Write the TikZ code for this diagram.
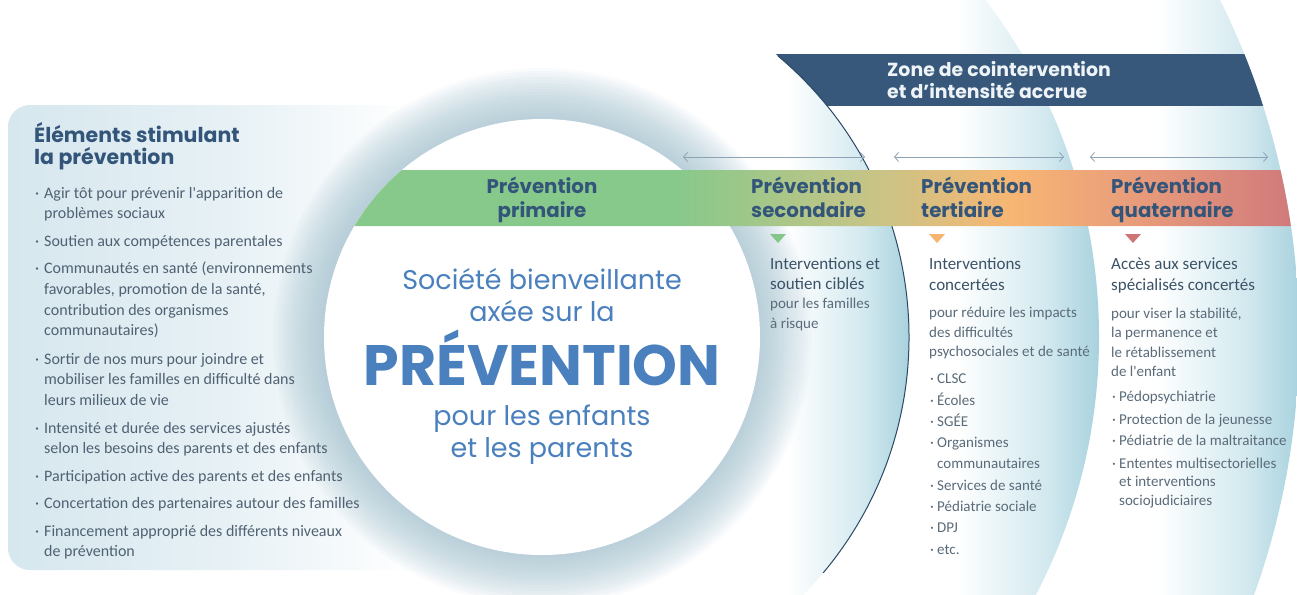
\documentclass[tikz,border=0pt]{standalone}
\usepackage{fontspec}
\setmainfont{Carlito}
\newfontfamily\pop{Poppins}
\newfontfamily\bodyf{Carlito}
\usetikzlibrary{arrows.meta}

\definecolor{bandblue}{HTML}{A8D2DE}
\definecolor{bandmid}{HTML}{D3E9EF}
\definecolor{glowc}{HTML}{9DBFCD}
\definecolor{panelL}{HTML}{D6E7EE}
\definecolor{panelM}{HTML}{E7F1F5}
\definecolor{titleblue}{HTML}{34557A}
\definecolor{bannerc}{HTML}{37587A}
\definecolor{bannertxt}{HTML}{EEF3F7}
\definecolor{circtext}{HTML}{4A80BD}
\definecolor{bodyc}{HTML}{4F6173}
\definecolor{headc}{HTML}{3B5267}
\definecolor{subc}{HTML}{5A6B7A}
\definecolor{arrowc}{HTML}{8EA2B5}
\definecolor{darkline}{HTML}{2C4867}
\definecolor{gA}{HTML}{86C98B}
\definecolor{gB}{HTML}{C9C486}
\definecolor{gC}{HTML}{F7B673}
\definecolor{gD}{HTML}{EBA17A}
\definecolor{gE}{HTML}{D17A7B}
\definecolor{triG}{HTML}{84C68A}
\definecolor{triO}{HTML}{F6B46F}
\definecolor{triR}{HTML}{CF7474}

\pgfdeclarehorizontalshading{bandsh}{100bp}{color(0bp)=(white); color(25bp)=(white); color(40bp)=(white); color(62bp)=(bandmid); color(75bp)=(bandblue); color(100bp)=(bandblue)}
\pgfdeclarehorizontalshading{barsh}{100bp}{color(0bp)=(gA); color(25bp)=(gA); color(42bp)=(gA); color(53bp)=(gB); color(60bp)=(gC); color(65.5bp)=(gD); color(75bp)=(gE); color(100bp)=(gE)}
\pgfdeclarehorizontalshading{panelsh}{100bp}{color(0bp)=(panelL); color(25bp)=(panelL); color(45bp)=(panelM); color(62bp)=(white); color(100bp)=(white)}

\tikzset{
  bodytxt/.style={font=\bodyf\fontsize{16}{19}\selectfont, text=bodyc, inner sep=0pt, anchor=base west},
  coltitle/.style={font=\bodyf\fontsize{17}{20}\selectfont, text=headc, inner sep=0pt, anchor=base west},
  colsub/.style={font=\bodyf\fontsize{15}{18}\selectfont, text=subc, inner sep=0pt, anchor=base west},
  bartxt/.style={font=\pop\bfseries\fontsize{19.8}{22}\selectfont, text=titleblue, inner sep=0pt},
  titletxt/.style={font=\pop\bfseries\fontsize{20.5}{24}\selectfont, text=titleblue, inner sep=0pt, anchor=base west},
  bantxt/.style={font=\pop\bfseries\fontsize{18.9}{22}\selectfont, text=bannertxt, inner sep=0pt, anchor=base west},
  circtxt/.style={font=\pop\fontsize{27}{30}\selectfont, text=circtext, inner sep=0pt, anchor=base},
  bigtxt/.style={font=\pop\bfseries\fontsize{57}{60}\selectfont, text=circtext, inner sep=0pt, anchor=base},
  arr/.style={draw=arrowc, line width=0.8pt, {Straight Barb[length=4pt,width=9pt]}-{Straight Barb[length=4pt,width=9pt]}},
}

\begin{document}
\begin{tikzpicture}[x=1pt,y=1pt]
\useasboundingbox (0,0) rectangle (1297,-594);
\fill[white] (0,0) rectangle (1297,-594);
\coordinate (C) at (542,-337);

% concentric bands
\begin{scope}
  \clip (C) circle[radius=757pt];
  \shade[shading=bandsh] (1095,0) rectangle (1299,-594);
\end{scope}
\begin{scope}
  \clip (C) circle[radius=557pt];
  \fill[white] (C) circle[radius=557pt];
  \shade[shading=bandsh] (895,0) rectangle (1099,-594);
\end{scope}
\begin{scope}
  \clip (C) circle[radius=367pt];
  \fill[white] (C) circle[radius=367pt];
  \shade[shading=bandsh] (735,0) rectangle (909,-594);
\end{scope}

% left panel
\shade[shading=panelsh, rounded corners=22pt] (8,-105) rectangle (560,-570);

% glow around central circle
\foreach \r in {221,224,...,269} \fill[glowc, opacity=0.058] (C) circle[radius=\r pt];
\fill[white] (C) circle[radius=218pt];

% banner
\begin{scope}
  \clip (542,-55) rectangle (1297,-105.5);
  \fill[bannerc, even odd rule] (C) circle[radius=757pt] (C) circle[radius=367pt];
\end{scope}

% dark arc
\draw[darkline, line width=1pt] (C) ++(50:367pt) arc[start angle=50, end angle=-40, radius=367pt];

% gradient bar
\shade[shading=barsh] (354.4,-226) arc[start angle=149.39, end angle=130.0, radius=218pt]
  -- (1280.4,-170) arc[start angle=12.745, end angle=8.432, radius=757pt] -- cycle;

% arrows
\coordinate (a1L) at (683,-157); \coordinate (a1R) at (865,-157);
\coordinate (a2L) at (894,-157); \coordinate (a2R) at (1064,-157);
\coordinate (a3L) at (1090,-157); \coordinate (a3R) at (1268,-157);
\draw[arr] (a1L) -- (a1R);
\draw[arr] (a2L) -- (a2R);
\draw[arr] (a3L) -- (a3R);

% triangles
\fill[triG] (770,-234) -- (786,-234) -- (778,-243) -- cycle;
\fill[triO] (929,-234) -- (945,-234) -- (937,-243) -- cycle;
\fill[triR] (1125,-234) -- (1141,-234) -- (1133,-243) -- cycle;

% banner text
\node[bantxt] (zone1) at (887,-77) {Zone de cointervention};
\node[bantxt] (zone2) at (887,-98) {et d’intensité accrue};

% bar text
\node[bartxt, anchor=base] (p1a) at (542,-193) {Prévention};
\node[bartxt, anchor=base] (p1b) at (542,-217) {primaire};
\node[bartxt, anchor=base west] (p2a) at (751,-193) {Prévention};
\node[bartxt, anchor=base west] (p2b) at (751,-217) {secondaire};
\node[bartxt, anchor=base west] (p3a) at (921,-193) {Prévention};
\node[bartxt, anchor=base west] (p3b) at (921,-217) {tertiaire};
\node[bartxt, anchor=base west] (p4a) at (1111,-193) {Prévention};
\node[bartxt, anchor=base west] (p4b) at (1111,-217) {quaternaire};

% central text
\node[circtxt] (c1) at (542,-289) {Société bienveillante};
\node[circtxt] (c2) at (542,-321) {axée sur la};
\node[bigtxt] (c3) at (542,-385) {PRÉVENTION};
\node[circtxt] (c4) at (542,-425) {pour les enfants};
\node[circtxt] (c5) at (542,-457) {et les parents};

% left panel text
\node[titletxt] (t1) at (34,-142) {Éléments stimulant};
\node[titletxt] (t2) at (34,-164) {la prévention};
\foreach \y/\b/\t [count=\i] in {
  198/1/{Agir tôt pour prévenir l'apparition de},
  218/0/{problèmes sociaux},
  246/1/{Soutien aux compétences parentales},
  273/1/{Communautés en santé (environnements},
  294/0/{favorables, promotion de la santé,},
  315/0/{contribution des organismes},
  335/0/{communautaires)},
  364/1/{Sortir de nos murs pour joindre et},
  384/0/{mobiliser les familles en difficulté dans},
  405/0/{leurs milieux de vie},
  433/1/{Intensité et durée des services ajustés},
  453/0/{selon les besoins des parents et des enfants},
  481/1/{Participation active des parents et des enfants},
  508/1/{Concertation des partenaires autour des familles},
  536/1/{Financement approprié des différents niveaux},
  556/0/{de prévention}} {
  \node[bodytxt] (L\i) at (44,-\y) {\t};
  \ifnum\b=1 \node[bodytxt] (LB\i) at (35,-\y) {·}; \fi
}

% column 2
\node[coltitle] (s1) at (770,-269) {Interventions et};
\node[coltitle] (s2) at (770,-289) {soutien ciblés};
\node[colsub] (s3) at (770,-308) {pour les familles};
\node[colsub] (s4) at (770,-328) {à risque};

% column 3
\node[coltitle] (r1) at (929,-269) {Interventions};
\node[coltitle] (r2) at (929,-290) {concertées};
\node[colsub] (r3) at (929,-317) {pour réduire les impacts};
\node[colsub] (r4) at (929,-337) {des difficultés};
\node[colsub] (r5) at (929,-356) {psychosociales et de santé};
\foreach \y/\b/\t [count=\i] in {
  383/1/{CLSC}, 405/1/{Écoles}, 426/1/{SGÉE}, 447/1/{Organismes},
  468/0/{communautaires}, 490/1/{Services de santé}, 511/1/{Pédiatrie sociale},
  532/1/{DPJ}, 554/1/{etc.}} {
  \node[colsub] (R\i) at (937,-\y) {\t};
  \ifnum\b=1 \node[colsub] (RB\i) at (930,-\y) {·}; \fi
}

% column 4
\node[coltitle] (q1) at (1111,-269) {Accès aux services};
\node[coltitle] (q2) at (1111,-290) {spécialisés concertés};
\node[colsub] (q3) at (1111,-318) {pour viser la stabilité,};
\node[colsub] (q4) at (1111,-337) {la permanence et};
\node[colsub] (q5) at (1111,-357) {le rétablissement};
\node[colsub] (q6) at (1111,-376) {de l'enfant};
\foreach \y/\b/\t [count=\i] in {
  401/1/{Pédopsychiatrie}, 424/1/{Protection de la jeunesse},
  445/1/{Pédiatrie de la maltraitance}, 468/1/{Ententes multisectorielles},
  486/0/{et interventions}, 505/0/{sociojudiciaires}} {
  \node[colsub] (Q\i) at (1119,-\y) {\t};
  \ifnum\b=1 \node[colsub] (QB\i) at (1112,-\y) {·}; \fi
}
\end{tikzpicture}
\end{document}
